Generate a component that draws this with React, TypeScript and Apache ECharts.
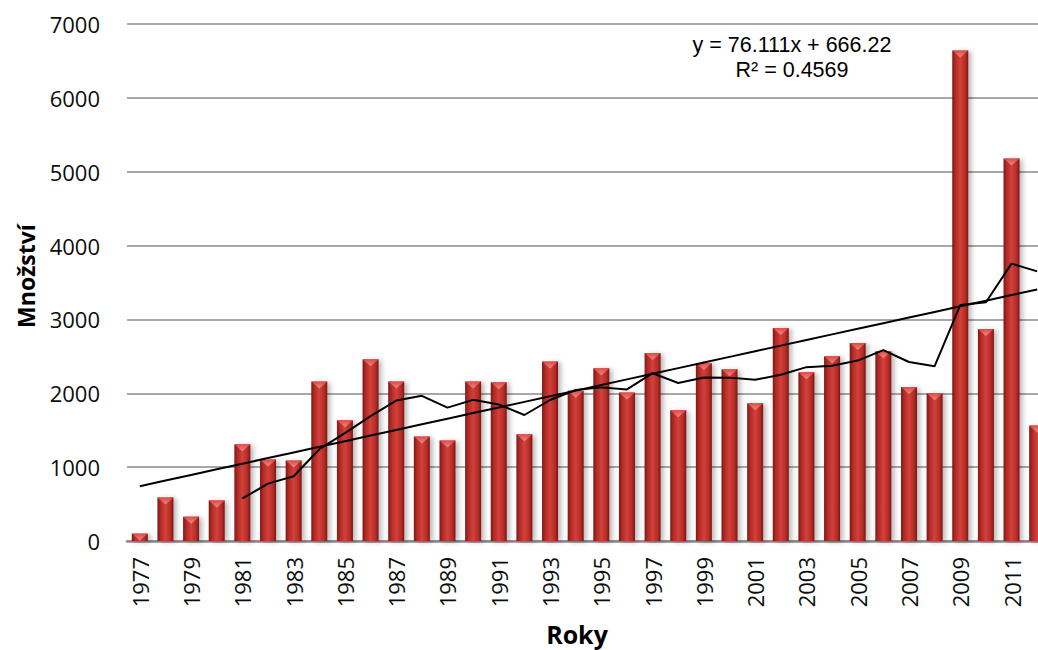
import React, { useEffect, useRef } from "react";
import * as echarts from "echarts";

const years = [
  "1977", "1978", "1979", "1980", "1981", "1982", "1983", "1984", "1985", "1986",
  "1987", "1988", "1989", "1990", "1991", "1992", "1993", "1994", "1995", "1996",
  "1997", "1998", "1999", "2000", "2001", "2002", "2003", "2004", "2005", "2006",
  "2007", "2008", "2009", "2010", "2011", "2012",
];

const amounts = [
  100, 590, 330, 550, 1310, 1105, 1090, 2160, 1635, 2460,
  2160, 1415, 1360, 2160, 2150, 1445, 2430, 2035, 2340, 2010,
  2545, 1770, 2410, 2325, 1865, 2885, 2285, 2500, 2680, 2570,
  2085, 2000, 6640, 2870, 5180, 1565,
];

// Linear trendline shown on the chart: y = 76.111x + 666.22 (x = 1..n)
const trendSlope = 76.111;
const trendIntercept = 666.22;
const equationText = "y = 76.111x + 666.22";
const r2Text = "R² = 0.4569";

// Moving average period (5 years)
const maPeriod = 5;

const yTicks = { min: 0, max: 7000, interval: 1000 };

const FONT = "'Open Sans', 'Liberation Sans', sans-serif";
const EQ_FONT = "'Liberation Sans', Arial, sans-serif";

export default function App() {
  const ref = useRef<HTMLDivElement | null>(null);

  useEffect(() => {
    if (!ref.current) return;
    const chart = echarts.init(ref.current, undefined, { renderer: "svg" });

    const trend = years.map((_, i) => +(trendSlope * (i + 1) + trendIntercept).toFixed(2));
    const movingAvg = amounts.map((_, i) => {
      if (i < maPeriod - 1) return null;
      let s = 0;
      for (let k = i - maPeriod + 1; k <= i; k++) s += amounts[k];
      return +(s / maPeriod).toFixed(1);
    });

    const barGradient = new echarts.graphic.LinearGradient(0, 0, 1, 0, [
      { offset: 0, color: "#7e1714" },
      { offset: 0.18, color: "#ad2a25" },
      { offset: 0.5, color: "#d4403a" },
      { offset: 0.82, color: "#b22c27" },
      { offset: 1, color: "#7a1512" },
    ]);
    const capGradient = new echarts.graphic.LinearGradient(0, 0, 0, 1, [
      { offset: 0, color: "#f59a97" },
      { offset: 1, color: "#e2504c" },
    ]);

    chart.setOption({
      animation: false,
      backgroundColor: "#ffffff",
      grid: { left: 127, right: 10, top: 24, bottom: 109, containLabel: false },
      xAxis: {
        type: "category",
        data: years,
        axisLine: { show: true, lineStyle: { color: "#8a8a8a", width: 2.5 } },
        axisTick: { show: false },
        axisLabel: {
          interval: 1,
          rotate: 90,
          margin: 16,
          color: "#0d0d0d",
          fontSize: 22,
          fontFamily: FONT,
        },
        splitLine: { show: false },
      },
      yAxis: {
        type: "value",
        min: yTicks.min,
        max: yTicks.max,
        interval: yTicks.interval,
        axisLine: { show: false },
        axisTick: { show: false },
        axisLabel: {
          margin: 27,
          color: "#0d0d0d",
          fontSize: 22,
          fontFamily: FONT,
          formatter: (v: number) => String(v),
        },
        splitLine: { show: true, lineStyle: { color: "#8a8a8a", width: 1.6 } },
      },
      series: [
        {
          type: "bar",
          data: amounts,
          barWidth: 16,
          z: 2,
          itemStyle: {
            color: barGradient,
            shadowColor: "rgba(0,0,0,0.28)",
            shadowBlur: 5,
            shadowOffsetX: 3,
            shadowOffsetY: 1,
          },
        },
        {
          type: "scatter",
          data: amounts,
          symbol: "triangle",
          symbolRotate: 180,
          symbolSize: [16, 7],
          symbolOffset: [0, 3.5],
          z: 3,
          itemStyle: { color: capGradient },
          silent: true,
        },
        {
          type: "line",
          data: trend,
          symbol: "none",
          z: 5,
          lineStyle: { color: "#000000", width: 2 },
        },
        {
          type: "line",
          data: movingAvg,
          symbol: "none",
          connectNulls: false,
          z: 5,
          lineStyle: { color: "#000000", width: 2 },
        },
      ],
      graphic: [
        {
          type: "text",
          x: 792,
          y: 44.5,
          z: 10,
          style: {
            text: equationText,
            font: `21.5px ${EQ_FONT}`,
            fill: "#000",
            align: "center",
            verticalAlign: "middle",
          },
        },
        {
          type: "text",
          x: 792,
          y: 70,
          z: 10,
          style: {
            text: r2Text,
            font: `21.5px ${EQ_FONT}`,
            fill: "#000",
            align: "center",
            verticalAlign: "middle",
          },
        },
        {
          type: "text",
          x: 25.5,
          y: 276,
          rotation: Math.PI / 2,
          z: 10,
          style: {
            text: "Množství",
            font: `bold 23px ${FONT}`,
            fill: "#000",
            align: "center",
            verticalAlign: "middle",
          },
        },
        {
          type: "text",
          x: 577,
          y: 634,
          z: 10,
          style: {
            text: "Roky",
            font: `bold 25px ${FONT}`,
            fill: "#000",
            align: "center",
            verticalAlign: "middle",
          },
        },
      ],
    });

    return () => chart.dispose();
  }, []);

  return (
    <div
      style={{
        position: "fixed",
        left: 0,
        top: 0,
        width: 1038,
        height: 650,
        overflow: "hidden",
        background: "#ffffff",
      }}
    >
      <div ref={ref} style={{ width: 1060, height: 650 }} />
    </div>
  );
}
